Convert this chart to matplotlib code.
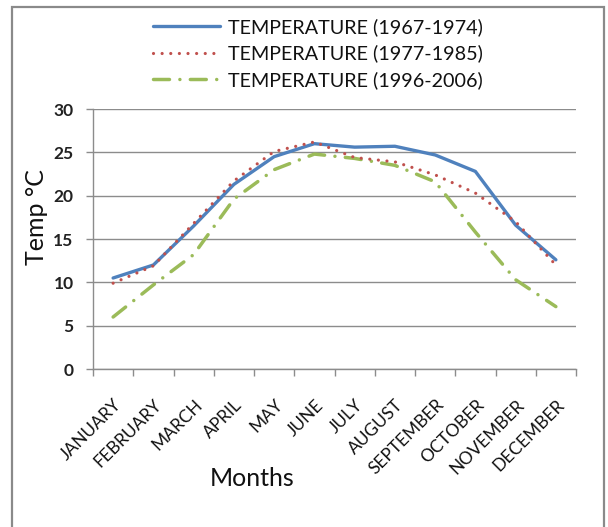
import matplotlib
matplotlib.use("Agg")
import matplotlib.pyplot as plt
import matplotlib.transforms as mtransforms
from matplotlib.patches import Rectangle
import numpy as np

months = ["JANUARY", "FEBRUARY", "MARCH", "APRIL", "MAY", "JUNE", "JULY",
          "AUGUST", "SEPTEMBER", "OCTOBER", "NOVEMBER", "DECEMBER"]
temp_1967_1974 = [10.5, 12.0, 16.5, 21.3, 24.5, 26.0, 25.6, 25.7, 24.7, 22.8, 16.6, 12.6]
temp_1977_1985 = [9.9, 11.9, 16.8, 21.7, 25.1, 26.2, 24.4, 23.9, 22.4, 20.3, 17.0, 12.0]
temp_1996_2006 = [6.0, 9.7, 13.2, 19.6, 23.0, 24.8, 24.3, 23.5, 21.6, 15.8, 10.3, 7.2]
series_labels = ["TEMPERATURE (1967-1974)", "TEMPERATURE (1977-1985)", "TEMPERATURE (1996-2006)"]
y_ticks = [0, 5, 10, 15, 20, 25, 30]

plt.rcParams['font.family'] = ['Lato', 'DejaVu Sans']
plt.rcParams['lines.scale_dashes'] = False

W, H = 608, 527
fig = plt.figure(figsize=(W / 100, H / 100), dpi=100)
fig.patch.set_facecolor('white')

# outer chart border
fig.add_artist(Rectangle((12 / W, -0.02), (604 - 12) / W, 1 - 7 / H + 0.02,
                         transform=fig.transFigure, fill=False,
                         edgecolor='#8a8a8a', linewidth=1.6, zorder=0))

ax = fig.add_axes([93 / W, 1 - 369 / H, (576 - 93) / W, (369 - 109) / H])
x = np.arange(len(months))

l1, = ax.plot(x, temp_1967_1974, color='#4F81BD', linewidth=2.4,
              solid_capstyle='round', solid_joinstyle='round', zorder=3)
l2, = ax.plot(x, temp_1977_1985, color='#C0504D', linewidth=2.3,
              linestyle=(0, (0.01, 6.2)), dash_capstyle='round', zorder=4)
l3, = ax.plot(x, temp_1996_2006, color='#9BBB59', linewidth=2.5,
              linestyle=(0, (11.5, 7.5, 0.01, 7.5)), dash_capstyle='round', zorder=2)

ax.set_xlim(-0.5, len(months) - 0.5)
ax.set_ylim(0, 30)
ax.set_yticks(y_ticks)
ax.yaxis.grid(True, color='#8c8c8c', linewidth=1.0)
ax.set_axisbelow(True)

for s in ['top', 'right']:
    ax.spines[s].set_visible(False)
for s in ['left', 'bottom']:
    ax.spines[s].set_color('#8c8c8c')
    ax.spines[s].set_linewidth(1.0)

ax.tick_params(axis='y', length=5, width=1.0, color='#8c8c8c', pad=9,
               labelsize=12.5, labelcolor='#222222')
for t in ax.get_yticklabels():
    t.set_fontweight('bold')

ax.set_xticks(x)
ax.set_xticklabels(months, rotation=45, ha='right', va='center',
                   rotation_mode='anchor', fontsize=12.5, color='#111111')
ax.set_xticks(np.arange(len(months) + 1) - 0.5, minor=True)
ax.tick_params(axis='x', which='major', length=0, pad=24)
ax.tick_params(axis='x', which='minor', length=5, width=1.0, color='#8c8c8c')
offset = mtransforms.ScaledTranslation(6 / 100, 0, fig.dpi_scale_trans)
for t in ax.get_xticklabels():
    t.set_transform(t.get_transform() + offset)

fig.text(37 / W, 1 - 217 / H, "Temp °C", rotation=90, ha='center', va='center',
         fontsize=18, color='#111111')
fig.text(252 / W, 1 - 478 / H, "Months", ha='center', va='center',
         fontsize=18, color='#111111')

leg = fig.legend([l1, l2, l3], series_labels, loc='upper left',
                 bbox_to_anchor=(139 / W, 1 - 4 / H), frameon=False,
                 fontsize=14.2, handlelength=3.4, handletextpad=0.42,
                 labelspacing=0.45, borderpad=0.2)
for t in leg.get_texts():
    t.set_color('#111111')

fig.savefig("out.png", dpi=100, facecolor='white')
